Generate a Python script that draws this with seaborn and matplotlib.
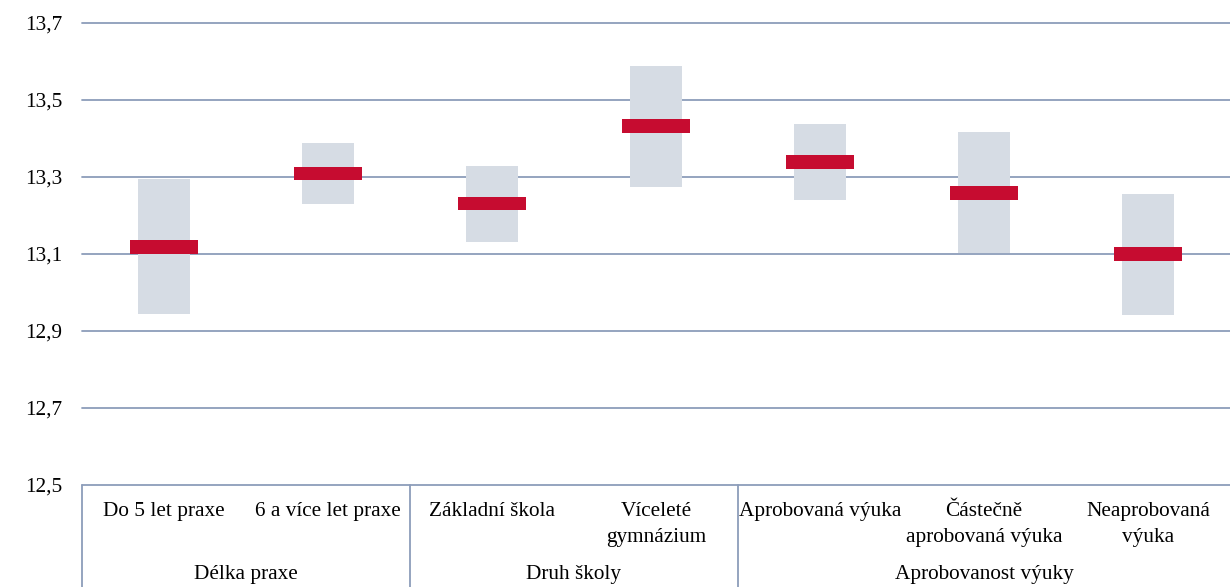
"""
Intervaly spolehlivosti průměrů podle skupin učitelů (Délka praxe, Druh školy, Aprobovanost výuky).
Writes: out.png
"""

import numpy as np
import pandas as pd
import matplotlib
matplotlib.use("Agg")
import matplotlib.pyplot as plt
import seaborn as sns

# ---------------------------------------------------------------------------
# Data
# ---------------------------------------------------------------------------
CATEGORIES = ["Do 5 let praxe", "6 a více let praxe", "Základní škola",
              "Víceleté\ngymnázium", "Aprobovaná výuka",
              "Částečně\naprobovaná výuka", "Neaprobovaná\nvýuka"]
GROUPS      = ["Délka praxe", "Druh školy", "Aprobovanost výuky"]
GROUP_SIZES = [2, 2, 3]

MEAN  = [13.119, 13.309, 13.231, 13.432, 13.340, 13.259, 13.100]
LOWER = [12.944, 13.231, 13.131, 13.273, 13.241, 13.102, 12.942]
UPPER = [13.296, 13.388, 13.328, 13.588, 13.438, 13.417, 13.257]

Y_TICKS       = [12.5, 12.7, 12.9, 13.1, 13.3, 13.5, 13.7]
Y_TICK_LABELS = ["12,5", "12,7", "12,9", "13,1", "13,3", "13,5", "13,7"]

# ---------------------------------------------------------------------------
# Style
# ---------------------------------------------------------------------------
BOX_COL  = "#D6DCE4"
MEAN_COL = "#C60C30"
GRID_COL = "#8C9DBA"
TEXT_COL = "#000000"
FONT     = ["Liberation Serif", "DejaVu Serif"]
FS       = 15.3
MEAN_H   = 0.036   # thickness of the mean marker in data units

sns.set_style("white")
plt.rcParams["font.family"] = FONT


def main():
    df = pd.DataFrame({
        "cat":   CATEGORIES,
        "mean":  MEAN,
        "lower": LOWER,
        "upper": UPPER,
    })
    df["span"] = df["upper"] - df["lower"]

    fig = plt.figure(figsize=(12.30, 5.87), dpi=100)
    ax = fig.add_axes([82 / 1230, 102 / 587, 1 - 82 / 1230, 462 / 587])

    # confidence interval boxes
    sns.barplot(data=df, x="cat", y="span", order=CATEGORIES, bottom=df["lower"].values,
                color=BOX_COL, width=0.32, errorbar=None, saturation=1,
                edgecolor="none", ax=ax, zorder=2)
    # mean markers
    sns.barplot(data=df, x="cat", y=[MEAN_H] * len(df), order=CATEGORIES,
                bottom=(df["mean"] - MEAN_H / 2).values,
                color=MEAN_COL, width=0.41, errorbar=None, saturation=1,
                edgecolor="none", ax=ax, zorder=3)

    ax.set_xlim(-0.5, len(CATEGORIES) - 0.5)
    ax.set_ylim(Y_TICKS[0], Y_TICKS[-1])
    ax.set_yticks(Y_TICKS)
    ax.set_yticklabels(Y_TICK_LABELS, fontsize=FS, color=TEXT_COL)
    ax.tick_params(axis="y", length=0, pad=14)
    ax.set_xticks([])
    ax.set_xlabel("")
    ax.set_ylabel("")

    for y in Y_TICKS:
        ax.axhline(y, color=GRID_COL, linewidth=1.3, zorder=1, clip_on=False)
    for sp in ax.spines.values():
        sp.set_visible(False)

    # category labels below the axis
    trans = ax.get_xaxis_transform()
    for i, lab in enumerate(CATEGORIES):
        ax.text(i, -17 / 462, lab, transform=trans, ha="center", va="top",
                fontsize=FS, color=TEXT_COL, linespacing=1.5, clip_on=False)

    # group labels and separators
    start = 0
    for name, size in zip(GROUPS, GROUP_SIZES):
        centre = start + (size - 1) / 2
        ax.text(centre, -90 / 462, name, transform=trans, ha="center", va="center",
                fontsize=FS, color=TEXT_COL, clip_on=False)
        ax.plot([start - 0.5, start - 0.5], [0, -110 / 462], transform=trans,
                color=GRID_COL, linewidth=1.3, clip_on=False)
        start += size

    fig.savefig("out.png", dpi=100)
    plt.close(fig)


if __name__ == "__main__":
    main()
